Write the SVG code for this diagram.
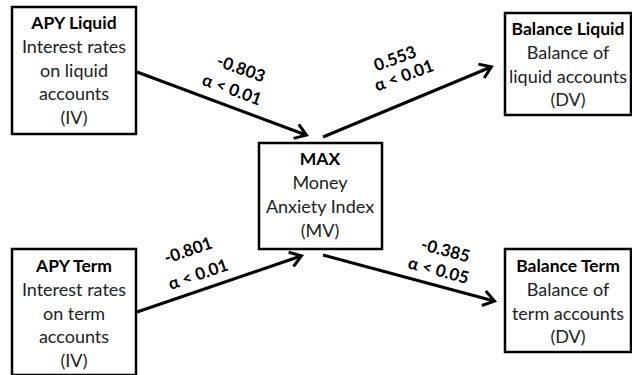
<svg xmlns="http://www.w3.org/2000/svg" width="632" height="375" viewBox="0 0 632 375">
<style>
.box{fill:#fff;stroke:#000;stroke-width:2.5}
.t{font-family:Lato,"Liberation Sans",sans-serif;font-size:18px;fill:#222;text-anchor:middle}
.b{font-weight:bold;fill:#000;font-size:17.5px}
.lbl{font-family:Lato,"Liberation Sans",sans-serif;font-size:17px;font-weight:bold;fill:#000;text-anchor:middle}
.e{stroke:#000;stroke-width:3;fill:none;marker-end:url(#ah)}
</style>
<defs>
<marker id="ah" markerWidth="8" markerHeight="8" refX="6.5" refY="4" orient="auto" markerUnits="userSpaceOnUse" viewBox="0 0 8 8" overflow="visible">
<path d="M-4,-3.5 L7,4 L-4,11.5" fill="none" stroke="#000" stroke-width="3" stroke-linejoin="miter"/>
</marker>
</defs>
<rect width="632" height="375" fill="#fff"/>
<g id="connectors">
<line class="e" x1="137" y1="72" x2="306" y2="135"/>
<line class="e" x1="323" y1="137" x2="491" y2="67"/>
<line class="e" x1="137" y1="312" x2="301" y2="256"/>
<line class="e" x1="323" y1="255" x2="494" y2="301"/>
<text class="lbl" transform="translate(239,74) rotate(20)">-0.803</text>
<text class="lbl" transform="translate(230,95) rotate(20)">α &lt; 0.01</text>
<text class="lbl" transform="translate(397,64) rotate(-20)">0.553</text>
<text class="lbl" transform="translate(406,81) rotate(-20)">α &lt; 0.01</text>
<text class="lbl" transform="translate(190,256) rotate(-19)">-0.801</text>
<text class="lbl" transform="translate(200,280) rotate(-19)">α &lt; 0.01</text>
<text class="lbl" transform="translate(444,256) rotate(15)">-0.385</text>
<text class="lbl" transform="translate(437,276) rotate(15)">α &lt; 0.05</text>
</g>
<g id="apy-liquid">
<rect class="box" x="12" y="7" width="124" height="127"/>
<text class="t b" x="74" y="29">APY Liquid</text>
<text class="t" x="74" y="53">Interest rates</text>
<text class="t" x="74" y="77">on liquid</text>
<text class="t" x="74" y="100">accounts</text>
<text class="t" x="74" y="124">(IV)</text>
</g>
<g id="apy-term">
<rect class="box" x="12" y="249" width="124" height="126"/>
<text class="t b" x="74" y="272">APY Term</text>
<text class="t" x="74" y="296">Interest rates</text>
<text class="t" x="74" y="320">on term</text>
<text class="t" x="74" y="343">accounts</text>
<text class="t" x="74" y="367">(IV)</text>
</g>
<g id="max">
<rect class="box" x="259" y="143" width="123" height="106"/>
<text class="t b" x="320" y="165">MAX</text>
<text class="t" x="320" y="189">Money</text>
<text class="t" x="320" y="213">Anxiety Index</text>
<text class="t" x="320" y="237">(MV)</text>
</g>
<g id="balance-liquid">
<rect class="box" x="505" y="13" width="126" height="102"/>
<text class="t b" x="568" y="35">Balance Liquid</text>
<text class="t" x="568" y="59">Balance of</text>
<text class="t" x="568" y="83">liquid accounts</text>
<text class="t" x="568" y="106">(DV)</text>
</g>
<g id="balance-term">
<rect class="box" x="505" y="249" width="126" height="103"/>
<text class="t b" x="568" y="272">Balance Term</text>
<text class="t" x="568" y="296">Balance of</text>
<text class="t" x="568" y="320">term accounts</text>
<text class="t" x="568" y="343">(DV)</text>
</g>
</svg>
